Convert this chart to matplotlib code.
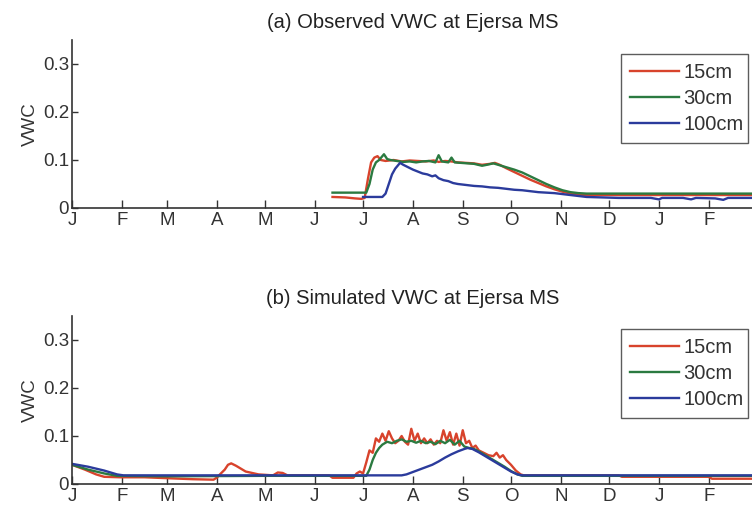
import matplotlib
matplotlib.use("Agg")
import matplotlib.pyplot as plt

plt.rcParams['font.family'] = ['Liberation Sans', 'DejaVu Sans']

month_ticks = [0, 31, 59, 90, 120, 151, 181, 212, 243, 273, 304, 334, 365, 396]
month_labels = ['J', 'F', 'M', 'A', 'M', 'J', 'J', 'A', 'S', 'O', 'N', 'D', 'J', 'F']
series_names = ['15cm', '30cm', '100cm']
colors = ['#d8432c', '#2b7a40', '#2b3b9c']

# ---- (a) observed ----
obs15_day = [162, 170, 176, 180, 182, 184, 186, 188, 190, 192, 195, 200, 205, 210, 215, 220, 225, 228,
             232, 236, 240, 245, 250, 255, 260, 263, 266, 270, 275, 280, 285, 290, 295, 300, 305, 310,
             315, 320, 360, 400, 430]
obs15_val = [0.023, 0.022, 0.020, 0.019, 0.021, 0.060, 0.095, 0.105, 0.108, 0.100, 0.098, 0.100, 0.097,
             0.099, 0.098, 0.097, 0.099, 0.096, 0.098, 0.097, 0.095, 0.094, 0.093, 0.090, 0.092, 0.094,
             0.090, 0.083, 0.075, 0.067, 0.059, 0.052, 0.045, 0.039, 0.034, 0.030, 0.028, 0.027, 0.027,
             0.027, 0.027]
obs30_day = [162, 170, 180, 183, 185, 187, 189, 191, 193, 194, 196, 198, 202, 206, 210, 214, 218, 222,
             226, 228, 230, 234, 236, 238, 242, 246, 250, 255, 258, 262, 265, 270, 275, 280, 285, 290,
             295, 300, 305, 310, 315, 320, 360, 400, 430]
obs30_val = [0.032, 0.032, 0.032, 0.032, 0.050, 0.080, 0.095, 0.100, 0.108, 0.112, 0.102, 0.100, 0.098,
             0.096, 0.097, 0.095, 0.097, 0.098, 0.095, 0.110, 0.097, 0.095, 0.105, 0.095, 0.094, 0.093,
             0.092, 0.088, 0.090, 0.093, 0.090, 0.085, 0.080, 0.074, 0.066, 0.058, 0.050, 0.043, 0.037,
             0.033, 0.031, 0.030, 0.030, 0.030, 0.030]
obs100_day = [181, 193, 195, 197, 199, 201, 203, 204, 206, 209, 212, 215, 218, 221, 224, 226, 228, 231,
              234, 237, 240, 245, 250, 255, 260, 265, 270, 275, 280, 285, 290, 295, 300, 305, 310, 315,
              320, 330, 340, 360, 365, 367, 380, 385, 388, 400, 405, 408, 420, 430]
obs100_val = [0.023, 0.023, 0.030, 0.050, 0.070, 0.082, 0.090, 0.094, 0.090, 0.085, 0.080, 0.076, 0.072,
              0.070, 0.066, 0.068, 0.062, 0.058, 0.056, 0.052, 0.050, 0.048, 0.046, 0.045, 0.043, 0.042,
              0.040, 0.038, 0.037, 0.035, 0.033, 0.032, 0.031, 0.029, 0.027, 0.025, 0.023, 0.022, 0.021,
              0.021, 0.018, 0.021, 0.021, 0.018, 0.021, 0.020, 0.017, 0.021, 0.021, 0.021]

# ---- (b) simulated ----
sim15_day = [0, 8, 15, 20, 30, 45, 60, 75, 88, 90, 92, 95, 97, 99, 102, 105, 108, 112, 116, 125, 128,
             131, 134, 160, 162, 175, 177, 179, 181, 183, 185, 187, 189, 191, 193, 195, 197, 199, 201,
             203, 205, 207, 209, 211, 213, 215, 217, 219, 221, 223, 225, 227, 229, 231, 233, 235, 237,
             239, 241, 243, 245, 247, 249, 251, 253, 256, 259, 262, 264, 266, 268, 270, 273, 276, 279,
             281, 340, 342, 396, 398, 430]
sim15_val = [0.040, 0.030, 0.020, 0.015, 0.014, 0.014, 0.012, 0.010, 0.009, 0.013, 0.020, 0.030, 0.040,
             0.043, 0.038, 0.032, 0.026, 0.023, 0.020, 0.018, 0.024, 0.023, 0.018, 0.018, 0.013, 0.013,
             0.022, 0.026, 0.022, 0.045, 0.070, 0.065, 0.095, 0.088, 0.105, 0.090, 0.110, 0.095, 0.085,
             0.090, 0.100, 0.088, 0.082, 0.115, 0.090, 0.105, 0.085, 0.095, 0.085, 0.093, 0.082, 0.090,
             0.085, 0.112, 0.090, 0.108, 0.082, 0.105, 0.080, 0.112, 0.085, 0.090, 0.075, 0.080, 0.070,
             0.065, 0.060, 0.058, 0.065, 0.055, 0.060, 0.050, 0.040, 0.028, 0.020, 0.018, 0.018, 0.015,
             0.015, 0.011, 0.011]
sim30_day = [0, 10, 20, 28, 60, 120, 183, 185, 187, 189, 191, 193, 196, 199, 202, 205, 208, 211, 214,
             217, 220, 223, 226, 229, 232, 235, 238, 241, 244, 247, 250, 253, 257, 261, 265, 269, 273,
             277, 280, 340, 430]
sim30_val = [0.040, 0.030, 0.022, 0.017, 0.016, 0.017, 0.017, 0.030, 0.050, 0.065, 0.075, 0.082, 0.088,
             0.085, 0.090, 0.093, 0.088, 0.090, 0.086, 0.090, 0.085, 0.088, 0.083, 0.090, 0.085, 0.092,
             0.082, 0.090, 0.078, 0.075, 0.073, 0.068, 0.060, 0.052, 0.044, 0.036, 0.027, 0.020, 0.017,
             0.017, 0.017]
sim100_day = [0, 10, 20, 28, 32, 100, 205, 208, 212, 216, 220, 224, 228, 232, 236, 240, 244, 246, 249,
              253, 257, 261, 265, 269, 273, 277, 280, 350, 430]
sim100_val = [0.042, 0.036, 0.028, 0.020, 0.018, 0.018, 0.018, 0.020, 0.025, 0.030, 0.035, 0.040, 0.047,
              0.055, 0.062, 0.068, 0.073, 0.075, 0.073, 0.066, 0.058, 0.050, 0.042, 0.034, 0.026, 0.020,
              0.018, 0.018, 0.018]

W, H = 752, 519
fig = plt.figure(figsize=(W / 100, H / 100), dpi=100)

panels = [
    ("(a) Observed VWC at Ejersa MS", 40, 208,
     [(obs15_day, obs15_val), (obs30_day, obs30_val), (obs100_day, obs100_val)], 54, 146),
    ("(b) Simulated VWC at Ejersa MS", 316, 484,
     [(sim15_day, sim15_val), (sim30_day, sim30_val), (sim100_day, sim100_val)], 329, 421),
]

txtc = '#333333'
for title, top, bot, data, ltop, lbot in panels:
    left_px, right_px = 72, 753
    ax = fig.add_axes([left_px / W, 1 - bot / H, (right_px - left_px) / W, (bot - top) / H])
    handles = []
    for (d, v), c, name in zip(data, colors, series_names):
        h, = ax.plot(d, v, color=c, lw=1.7, label=name)
        handles.append(h)
    ax.set_xlim(0, 423.5)
    ax.set_ylim(0, 0.35)
    ax.set_xticks(month_ticks)
    ax.set_xticklabels(month_labels)
    ax.set_yticks([0, 0.1, 0.2, 0.3])
    ax.set_yticklabels(['0', '0.1', '0.2', '0.3'])
    for s in ['top', 'right']:
        ax.spines[s].set_visible(False)
    for s in ['left', 'bottom']:
        ax.spines[s].set_color('#333333')
        ax.spines[s].set_linewidth(1.2)
    ax.tick_params(axis='x', direction='in', length=6, width=1, colors='#333333',
                   labelsize=13.5, labelcolor=txtc, pad=3)
    ax.tick_params(axis='y', direction='in', length=4, width=1, colors='#333333',
                   labelsize=13.5, labelcolor=txtc, pad=2)
    ax.set_ylabel('VWC', fontsize=13.5, color=txtc, labelpad=3)
    ax.set_title(title, fontsize=14.5, color='#222222', pad=9)
    leg = ax.legend(handles=handles, loc='upper left',
                    bbox_to_anchor=(621 / W, 1 - lbot / H, (748 - 621) / W, (lbot - ltop) / H),
                    bbox_transform=fig.transFigure, mode='expand', fontsize=14.5,
                    frameon=True, fancybox=False, handlelength=2.45, handletextpad=0.2,
                    borderaxespad=0, labelspacing=0.35, borderpad=0.45)
    leg.get_frame().set_edgecolor('#333333')
    leg.get_frame().set_linewidth(1.0)
    for t in leg.get_texts():
        t.set_color(txtc)

fig.savefig('out.png', dpi=100)
